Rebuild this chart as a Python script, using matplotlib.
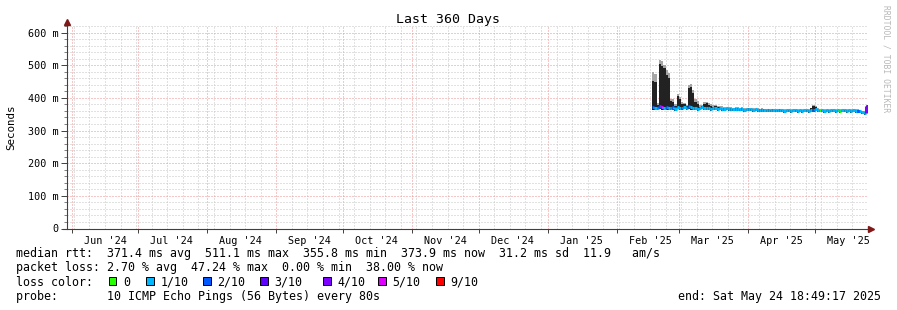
import matplotlib
matplotlib.use('Agg')
import matplotlib.pyplot as plt
import matplotlib.dates as mdates
from matplotlib.collections import LineCollection
from matplotlib.patches import Rectangle
import pandas as pd

# --- Data: one value per day, 2025-02-17 .. 2025-05-24 ---
first_day = '2025-02-17'
end_time = pd.Timestamp('2025-05-24 18:49:17')
start_time = end_time - pd.Timedelta(days=360)

median_ms = [
    372, 370, 368, 374, 371, 369, 372, 370, 368, 371, 366, 372,  # Feb
    370, 368, 372, 369, 374, 371, 368, 370, 367, 369, 371, 368, 370, 369, 367, 368,
    369, 367, 368, 366, 367, 368, 366, 367, 365, 366, 367, 365, 366, 364, 365,  # Mar
    366, 365, 364, 365, 364, 363, 364, 363, 362, 363, 362, 363, 362, 362, 363,
    362, 361, 362, 362, 361, 362, 362, 361, 362, 361, 362, 362, 361, 362, 363,  # Apr
    366, 364, 362, 362, 361, 362, 361, 362, 362, 361, 362, 361,
    362, 362, 361, 362, 361, 362, 361, 361, 360, 357, 355, 374,  # May
]
smoke_max_ms = [
    478, 472, 385, 517, 512, 500, 485, 477, 397, 395, 382, 411,
    402, 386, 385, 379, 438, 441, 425, 396, 390, 377, 379, 386, 388, 384, 380, 377,
    379, 375, 376, 374, 373, 373, 372, 372, 370, 371, 372, 370, 371, 369, 370,
    370, 369, 368, 369, 368, 367, 368, 367, 366, 367, 366, 367, 366, 366, 367,
    366, 365, 366, 366, 365, 366, 366, 365, 366, 365, 366, 366, 365, 370, 378,
    376, 368, 366, 366, 365, 366, 365, 366, 366, 365, 366, 365,
    366, 366, 365, 366, 365, 366, 365, 365, 364, 361, 360, 378,
]
smoke_core_ms = [
    452, 448, 378, 505, 498, 490, 470, 460, 390, 388, 376, 405,
    395, 382, 380, 375, 430, 432, 415, 388, 382, 373, 375, 381, 383, 379, 376, 373,
    375, 371, 372, 370, 369, 370, 369, 369, 367, 368, 369, 367, 368, 366, 367,
    368, 367, 366, 367, 366, 365, 366, 365, 364, 365, 364, 365, 364, 364, 365,
    364, 363, 364, 364, 363, 364, 364, 363, 364, 363, 364, 364, 363, 368, 375,
    372, 366, 364, 364, 363, 364, 363, 364, 364, 363, 364, 363,
    364, 364, 363, 364, 363, 364, 363, 363, 362, 359, 357, 376,
]
smoke_min_ms = [
    364, 362, 363, 365, 364, 362, 364, 363, 362, 364, 361, 365,
    364, 362, 365, 363, 366, 364, 362, 364, 361, 363, 365, 362, 364, 363, 361, 362,
    363, 361, 362, 360, 361, 362, 360, 361, 359, 360, 361, 359, 360, 358, 359,
    360, 359, 358, 359, 358, 357, 358, 357, 356, 357, 356, 357, 356, 356, 357,
    356, 355, 356, 356, 355, 356, 356, 355, 356, 355, 356, 356, 355, 356, 357,
    360, 358, 356, 356, 355, 356, 355, 356, 356, 355, 356, 355,
    356, 356, 355, 356, 355, 356, 355, 355, 354, 351, 349, 368,
]
loss_tenths = [
    2, 1, 1, 2, 5, 1, 2, 1, 1, 2, 1, 1,
    1, 2, 1, 1, 2, 1, 1, 1, 1, 1, 1, 1, 1, 1, 1, 1, 1, 1, 1, 1, 1, 1, 1, 1, 1, 1, 1, 1, 1, 1, 1,
    1, 1, 1, 1, 1, 1, 1, 1, 1, 1, 1, 1, 1, 1, 1, 1, 1, 1, 1, 1, 1, 1, 1, 1, 1, 1, 1, 1, 1, 2,
    1, 1, 0, 1, 1, 1, 1, 1, 1, 1, 1, 0, 1, 1, 1, 1, 1, 1, 1, 2, 1, 1, 1, 4,
]

loss_keys = [0, 1, 2, 3, 4, 5, 9]
loss_labels = ['0', '1/10', '2/10', '3/10', '4/10', '5/10', '9/10']
loss_colors = ['#26ff00', '#00b8ff', '#0059ff', '#5e00ff', '#7e00ff', '#dd00ff', '#ff0000']
color_of = dict(zip(loss_keys, loss_colors))

stats_rtt = 'median rtt:  371.4 ms avg  511.1 ms max  355.8 ms min  373.9 ms now  31.2 ms sd  11.9   am/s'
stats_loss = 'packet loss: 2.70 % avg  47.24 % max  0.00 % min  38.00 % now'
probe_text = 'probe:       10 ICMP Echo Pings (56 Bytes) every 80s'
end_text = 'end: Sat May 24 18:49:17 2025'

# --- Figure ---
W, H = 897, 310
plt.rcParams['font.family'] = ['DejaVu Sans Mono']
fig = plt.figure(figsize=(W / 100, H / 100), dpi=100)
fig.patch.set_facecolor('white')

left_px, right_px, top_px, bottom_px = 66.7, 867.5, 26, 228.5
ax = fig.add_axes([left_px / W, 1 - bottom_px / H,
                   (right_px - left_px) / W, (bottom_px - top_px) / H])
ax.set_facecolor('white')

days = pd.date_range(first_day, periods=len(median_ms), freq='D')
edges = list(days) + [end_time]
xs = mdates.date2num(edges)

# smoke: light spread and dark core
ax.fill_between(xs, smoke_min_ms + [smoke_min_ms[-1]], smoke_max_ms + [smoke_max_ms[-1]],
                step='post', color='#a6a6a6', lw=0, zorder=3)
ax.fill_between(xs, smoke_min_ms + [smoke_min_ms[-1]], smoke_core_ms + [smoke_core_ms[-1]],
                step='post', color='#222222', lw=0, zorder=4)

# median line coloured by loss
segs, cols = [], []
for i, m in enumerate(median_ms):
    segs.append([(xs[i], m), (xs[i + 1], m)])
    cols.append(color_of[loss_tenths[i]])
    if i + 1 < len(median_ms):
        segs.append([(xs[i + 1], m), (xs[i + 1], median_ms[i + 1])])
        cols.append(color_of[loss_tenths[i + 1]])
ax.add_collection(LineCollection(segs, colors=cols, linewidths=2.2, capstyle='butt', zorder=5))

ax.set_xlim(mdates.date2num(start_time), mdates.date2num(end_time))
ax.set_ylim(0, 620)

# grid: red dotted at months / 100 m, grey dotted at weeks / 20 m
ax.yaxis.set_major_locator(plt.MultipleLocator(100))
ax.yaxis.set_minor_locator(plt.MultipleLocator(20))
ax.xaxis.set_major_locator(mdates.MonthLocator(bymonthday=1))
ax.xaxis.set_minor_locator(mdates.WeekdayLocator(byweekday=mdates.SU))
ax.grid(which='minor', color='#c4c4c4', linestyle=(0, (1, 2)), lw=0.72, zorder=1)
ax.grid(which='major', color='#ec9090', linestyle=(0, (1, 2)), lw=0.72, zorder=2)

for s in ax.spines.values():
    s.set_visible(False)

ax.yaxis.set_major_formatter(plt.FuncFormatter(lambda v, p: '0' if v == 0 else f'{int(v)} m'))
ax.tick_params(axis='y', which='major', length=4, width=0.7, color='#404040',
               labelsize=7.3, pad=2)
ax.tick_params(axis='y', which='minor', length=2.5, width=0.7, color='#808080')
ax.tick_params(axis='x', which='major', length=3, width=0.7, color='#404040', labelbottom=False)
ax.tick_params(axis='x', which='minor', length=0)

# month labels centred around the 16th
for mstart in pd.date_range('2024-06-01', '2025-05-01', freq='MS'):
    lab = mstart.strftime("%b '%y")
    ax.text(mdates.date2num(mstart + pd.Timedelta(days=15)), -0.035, lab,
            transform=ax.get_xaxis_transform(), ha='center', va='top', fontsize=7.3)

# axes with arrows
axis_col = '#404040'
arrow_col = '#801818'
ax.plot([0, 0], [0, 1.015], transform=ax.transAxes, color=axis_col, lw=0.8,
        clip_on=False, zorder=6)
ax.plot([-0.004, 1.003], [0, 0], transform=ax.transAxes, color=axis_col, lw=0.8,
        clip_on=False, zorder=6)
ax.plot([0], [1.02], transform=ax.transAxes, marker='^', ms=4.5, color=arrow_col,
        clip_on=False, zorder=7)
ax.plot([1.004], [0], transform=ax.transAxes, marker='>', ms=4.5, color=arrow_col,
        clip_on=False, zorder=7)

# titles
fig.text(448 / W, 1 - 19 / H, 'Last 360 Days', ha='center', va='center', fontsize=9.5)
fig.text(11 / W, 1 - 127 / H, 'Seconds', ha='center', va='center', rotation=90, fontsize=7.8)
fig.text(886 / W, 1 - 5 / H, 'RRDTOOL / TOBI OETIKER', ha='center', va='top',
         rotation=270, fontsize=5.8, color='#b8b8b8')

# legend / stats
fs = 8.4
fig.text(16 / W, 1 - 254 / H, stats_rtt, ha='left', va='center', fontsize=fs)
fig.text(16 / W, 1 - 268 / H, stats_loss, ha='left', va='center', fontsize=fs)
fig.text(16 / W, 1 - 282 / H, 'loss color:', ha='left', va='center', fontsize=fs)
fig.text(16 / W, 1 - 296.5 / H, probe_text, ha='left', va='center', fontsize=fs)
fig.text(881 / W, 1 - 296.5 / H, end_text, ha='right', va='center', fontsize=fs)

box_x = [108.5, 146, 203, 260, 323, 378, 436]
for bx, lab, col in zip(box_x, loss_labels, loss_colors):
    fig.patches.append(Rectangle((bx / W, 1 - 284.5 / H), 7.5 / W, 7.5 / H,
                                 transform=fig.transFigure, facecolor=col,
                                 edgecolor='black', lw=0.7))
    fig.text((bx + 14.5) / W, 1 - 282 / H, lab, ha='left', va='center', fontsize=fs)

fig.savefig('out.png', dpi=100)
